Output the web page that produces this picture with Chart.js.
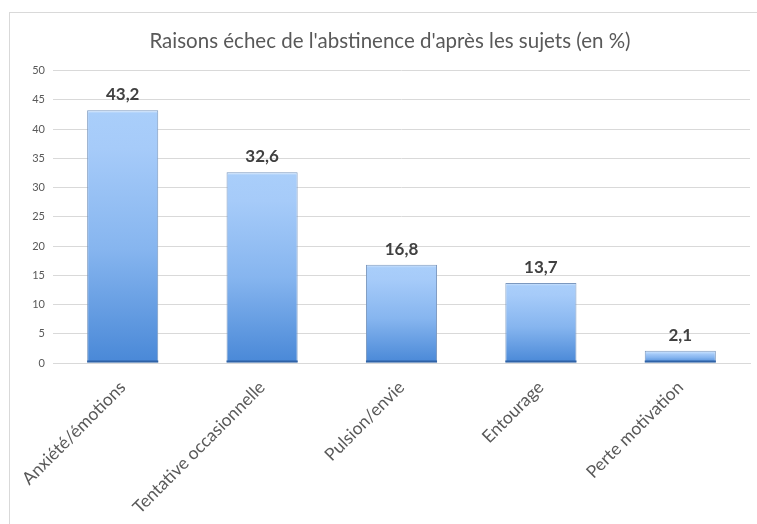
<!DOCTYPE html>
<html>
<head>
<meta charset="utf-8">
<script src="https://cdn.jsdelivr.net/npm/chart.js@4.4.1/dist/chart.umd.min.js"></script>
<style>
  html, body { margin: 0; padding: 0; background: #fff; overflow: hidden; }
  #wrap { position: absolute; left: 0; top: 0; width: 757px; height: 524px; }
  #frame { position: absolute; left: 9px; top: 12px; width: 760px; height: 530px; border: 1px solid #d9d9d9; pointer-events: none; }
</style>
</head>
<body>
<div id="wrap"><canvas id="c" width="757" height="524"></canvas></div>
<div id="frame"></div>
<script>
const titleText = "Raisons échec de l'abstinence d'après les sujets (en %)";
const categories = ["Anxiété/émotions", "Tentative occasionnelle", "Pulsion/envie", "Entourage", "Perte motivation"];
const values = [43.2, 32.6, 16.8, 13.7, 2.1];
const yTicks = [0, 5, 10, 15, 20, 25, 30, 35, 40, 45, 50];

const FONT = "Lato, 'Liberation Sans', sans-serif";

const valueLabels = {
  id: 'valueLabels',
  afterDatasetsDraw(chart) {
    const ctx = chart.ctx;
    const meta = chart.getDatasetMeta(0);
    ctx.save();
    meta.data.forEach((bar, i) => {
      const w = bar.width;
      ctx.fillStyle = '#2f62a6';
      ctx.fillRect(bar.x - w / 2, bar.base - 2, w, 2);
      ctx.fillStyle = '#404040';
      ctx.font = "bold 17px " + FONT;
      ctx.textAlign = 'center';
      ctx.textBaseline = 'bottom';
      ctx.fillText(values[i].toFixed(1).replace('.', ','), bar.x, bar.y - 7);
    });
    ctx.restore();
  }
};

new Chart(document.getElementById('c'), {
  type: 'bar',
  data: {
    labels: categories,
    datasets: [{
      data: values,
      backgroundColor(context) {
        const chart = context.chart;
        const ys = chart.scales.y;
        if (!chart.chartArea || !ys || context.dataIndex === undefined) return '#8ab8f0';
        const top = ys.getPixelForValue(values[context.dataIndex]);
        const bottom = ys.getPixelForValue(0);
        if (!isFinite(top) || !isFinite(bottom) || !(bottom > top)) return '#8ab8f0';
        const g = chart.ctx.createLinearGradient(0, top, 0, bottom);
        const h = bottom - top;
        const edge = Math.min(0.4, 3 / h);
        g.addColorStop(0, '#d6e8fd');
        g.addColorStop(edge, '#a9cefa');
        g.addColorStop(Math.max(edge, 0.15), '#a6cbf9');
        g.addColorStop(0.55, '#86b5ef');
        g.addColorStop(1, '#4988d7');
        return g;
      },
      borderColor: '#7b98bf',
      borderWidth: 1,
      borderSkipped: false,
      categoryPercentage: 1.0,
      barPercentage: 0.51
    }]
  },
  options: {
    responsive: false,
    animation: false,
    devicePixelRatio: 1,
    layout: { padding: { left: 30, right: 7, top: 0, bottom: 0 } },
    plugins: {
      legend: { display: false },
      tooltip: { enabled: false },
      title: {
        display: true,
        text: titleText,
        color: '#595959',
        font: { family: FONT, size: 20.5, weight: 'normal' },
        padding: { top: 29, bottom: 17 }
      }
    },
    scales: {
      x: {
        grid: { display: false, drawTicks: false },
        border: { display: true, color: '#d9d9d9' },
        ticks: {
          color: '#595959',
          font: { family: FONT, size: 17.5 },
          minRotation: 45,
          maxRotation: 45,
          padding: 14,
          autoSkip: false
        },
        afterFit(scale) { scale.height = 161; }
      },
      y: {
        min: 0,
        max: 50,
        afterBuildTicks(scale) { scale.ticks = yTicks.map(v => ({ value: v })); },
        grid: { color: '#d9d9d9', drawTicks: false },
        border: { display: false },
        ticks: {
          color: '#595959',
          font: { family: FONT, size: 11 },
          padding: 8
        },
        afterFit(scale) { scale.width = 23; }
      }
    }
  },
  plugins: [valueLabels]
});
</script>
</body>
</html>
